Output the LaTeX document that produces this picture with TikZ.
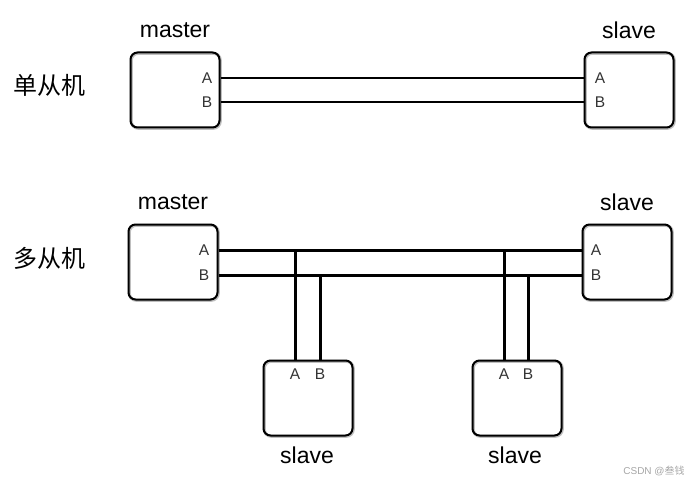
\documentclass[tikz,border=0pt]{standalone}
\usepackage{fontspec}
\setmainfont{Liberation Sans}
\newfontfamily\cjk{Noto Sans CJK SC}
\usetikzlibrary{calc}

\begin{document}
\begin{tikzpicture}[x=1pt,y=-1pt,
  box/.style={draw, line width=2pt, rounded corners=7pt,
    minimum width=89pt, minimum height=75pt, inner sep=0pt,
    preaction={draw=black!25, line width=3pt, transform canvas={shift={(0.8pt,-0.8pt)}}}},
  port/.style={font=\fontsize{15.5}{15.5}\selectfont, text=black!80, inner sep=1pt},
  title/.style={font=\fontsize{23}{23}\selectfont},
  group/.style={font=\cjk\fontsize{24}{24}\selectfont},
  bus/.style={line width=3pt}]
  \useasboundingbox (0,0) rectangle (700,486);

  % one master, one slave
  \node[group] (g1) at (49,85) {单从机};
  \node[box] (m1) at (175,90) {};
  \node[box] (s1) at (629,90) {};
  \node[title] (m1t) at (175,30) {master};
  \node[title] (s1t) at (629,30) {slave};

  \node[port] (m1A) at (207,78) {A};
  \node[port] (m1B) at (207,102) {B};
  \node[port] (s1A) at (600,78) {A};
  \node[port] (s1B) at (600,102) {B};

  \draw[bus, line width=2.4pt] (m1.east |- m1A) -- (s1.west |- s1A);
  \draw[bus, line width=2.4pt] (m1.east |- m1B) -- (s1.west |- s1B);

  % one master, three slaves
  \node[group] (g2) at (49,258) {多从机};
  \node[box] (m2) at (173,262) {};
  \node[box] (s2) at (627,262) {};
  \node[title] (m2t) at (173,202) {master};
  \node[title] (s2t) at (627,202) {slave};

  \node[port] (m2A) at (204,250) {A};
  \node[port] (m2B) at (204,275) {B};
  \node[port] (s2A) at (596,250) {A};
  \node[port] (s2B) at (596,275) {B};

  \draw[bus] (m2.east |- m2A) -- (s2.west |- s2A);
  \draw[bus] (m2.east |- m2B) -- (s2.west |- s2B);

  \node[box] (s3) at (308,398) {};
  \node[box] (s4) at (517,398) {};
  \node[title] (s3t) at (307,455) {slave};
  \node[title] (s4t) at (515,455) {slave};

  \node[port] (s3A) at (295,374) {A};
  \node[port] (s3B) at (320,374) {B};
  \node[port] (s4A) at (504,374) {A};
  \node[port] (s4B) at (528,374) {B};

  \draw[bus] (s3.north -| s3A) -- (s3A |- m2A);
  \draw[bus] (s3.north -| s3B) -- (s3B |- m2B);
  \draw[bus] (s4.north -| s4A) -- (s4A |- m2A);
  \draw[bus] (s4.north -| s4B) -- (s4B |- m2B);

  % watermark
  \node[text=black!35, font=\fontsize{10}{10}\selectfont] (wm) at (654,471) {CSDN @{\cjk 叁钱}};
\end{tikzpicture}
\end{document}
